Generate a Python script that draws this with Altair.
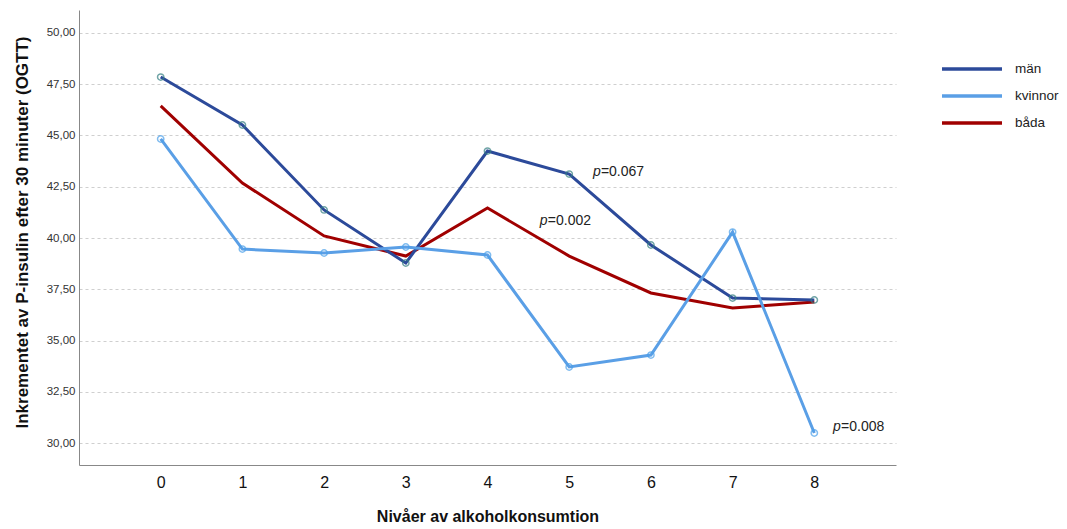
import altair as alt
import pandas as pd

levels = [0, 1, 2, 3, 4, 5, 6, 7, 8]
man = [47.85, 45.51, 41.37, 38.78, 44.24, 43.12, 39.66, 37.07, 36.98]
kvinnor = [44.83, 39.46, 39.27, 39.56, 39.17, 33.71, 34.29, 40.29, 30.49]
bada = [46.44, 42.68, 40.10, 39.12, 41.46, 39.12, 37.32, 36.59, 36.88]

series_names = ["män", "kvinnor", "båda"]
series_colors = ["#2c4a9a", "#5a9fe6", "#a00000"]
marker_colors = ["#357f82", "#4ba0ea"]

ann_x = [5.29, 4.64, 8.23]
ann_y = [43.22, 40.83, 30.78]
ann_rest = ["=0.067", "=0.002", "=0.008"]

rows = []
for name, vals in [("båda", bada), ("män", man), ("kvinnor", kvinnor)]:
    for lv, v in zip(levels, vals):
        rows.append({"level": lv, "value": v, "serie": name})
df = pd.DataFrame(rows)
ann = pd.DataFrame({"x": ann_x, "y": ann_y, "rest": ann_rest, "p": ["p"] * 3})

FONT = "Liberation Sans"

xscale = alt.Scale(domain=[-1, 9], nice=False, zero=False)
yscale = alt.Scale(domain=[28.93, 51.12], nice=False, zero=False)

xaxis = alt.Axis(
    title="Nivåer av alkoholkonsumtion", values=levels, format="d", grid=False, ticks=False,
    labelFontSize=16, labelColor="#111", labelPadding=9, labelFont=FONT,
    domainColor="#888", domainWidth=1,
    titleFontSize=16, titleFont=FONT, titleFontWeight="bold", titleColor="#111",
    titleBaseline="middle", titleY=51,
)
yaxis = alt.Axis(
    title="Inkrementet av P-insulin efter 30 minuter (OGTT)",
    values=[30, 32.5, 35, 37.5, 40, 42.5, 45, 47.5, 50],
    labelExpr="replace(format(datum.value, '.2f'), '.', ',')",
    ticks=False, labelFontSize=11.5, labelColor="#333", labelPadding=4, labelFont=FONT,
    grid=True, gridColor="#cfcfcf", gridDash=[3, 3], gridWidth=1,
    domainColor="#888", domainWidth=1,
    titleFontSize=17, titleFont=FONT, titleFontWeight="bold", titleColor="#111",
    titleAngle=-90, titleBaseline="middle", titleX=-57, titleY=222,
)

lines = alt.Chart(df).mark_line(strokeWidth=3).encode(
    x=alt.X("level:Q", scale=xscale, axis=xaxis),
    y=alt.Y("value:Q", scale=yscale, axis=yaxis),
    color=alt.Color(
        "serie:N",
        scale=alt.Scale(domain=series_names, range=series_colors),
        legend=alt.Legend(
            title=None, orient="none", legendX=851, legendY=47, padding=0,
            symbolType="M-3,0H3", symbolSize=400, symbolStrokeWidth=3.5,
            symbolOffset=30, labelOffset=31, rowPadding=8,
            labelFontSize=13.5, labelFont=FONT, labelColor="#222", labelLimit=200,
        ),
        sort=series_names,
    ),
    detail="serie:N",
)

markers = alt.Chart(df).transform_filter(
    alt.FieldOneOfPredicate(field="serie", oneOf=["män", "kvinnor"])
).mark_point(shape="circle", filled=False, size=40, strokeWidth=1.5).encode(
    x=alt.X("level:Q", scale=xscale),
    y=alt.Y("value:Q", scale=yscale),
    stroke=alt.Stroke("serie:N", scale=alt.Scale(domain=["män", "kvinnor"], range=marker_colors), legend=None),
)

ptext = alt.Chart(ann).mark_text(
    align="left", baseline="middle", fontSize=14, fontStyle="italic", font=FONT, color="#222"
).encode(x=alt.X("x:Q", scale=xscale), y=alt.Y("y:Q", scale=yscale), text="p:N")

rtext = alt.Chart(ann).mark_text(
    align="left", baseline="middle", fontSize=14, font=FONT, color="#222", dx=8
).encode(x=alt.X("x:Q", scale=xscale), y=alt.Y("y:Q", scale=yscale), text="rest:N")

chart = alt.layer(lines, markers, ptext, rtext).properties(
    width=817, height=455,
    autosize=alt.AutoSizeParams(type="none"),
    padding={"left": 71, "top": 2, "right": 163, "bottom": 59},
).configure(font=FONT).configure_view(stroke=None)

chart.save("out.html", embed_options={"renderer": "svg", "actions": False})
